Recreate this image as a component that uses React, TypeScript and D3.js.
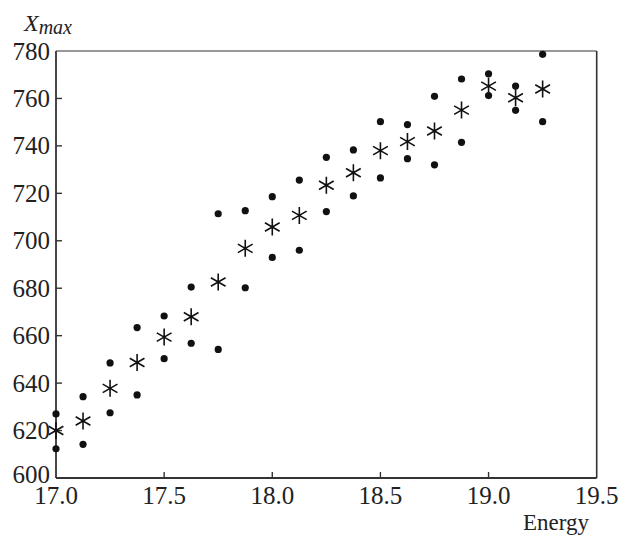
import React from "react";
import * as d3 from "d3";

const energies = [17.0, 17.125, 17.25, 17.375, 17.5, 17.625, 17.75, 17.875, 18.0, 18.125, 18.25, 18.375, 18.5, 18.625, 18.75, 18.875, 19.0, 19.125, 19.25];
const meanXmax = [620, 624, 637.8, 648.7, 659.4, 668, 682.6, 696.8, 705.8, 710.7, 723.4, 728.7, 738, 741.8, 746.3, 755.1, 765.2, 760.3, 764];
const upperXmax = [627, 634.3, 648.5, 663.4, 668.3, 680.5, 711.4, 712.7, 718.6, 725.6, 735.2, 738.3, 750.2, 749, 760.9, 768.2, 770.4, 765.2, 778.6];
const lowerXmax = [612.3, 614.2, 627.5, 635, 650.3, 656.8, 654.2, 680.2, 693, 696, 712.3, 718.9, 726.5, 734.6, 732, 741.5, 761.2, 755, 750.2];

const xTicks = [17.0, 17.5, 18.0, 18.5, 19.0, 19.5];
const yTicks = [600, 620, 640, 660, 680, 700, 720, 740, 760, 780];

const W = 634;
const H = 537;
const left = 56, right = 596.7, top = 51, bottom = 478;

export default function App() {
  const x = d3.scaleLinear().domain([17, 19.5]).range([left, right]);
  const y = d3.scaleLinear().domain([600, 780]).range([bottom, top]);
  const fontStyle = { fontFamily: '"Liberation Serif", "DejaVu Serif", serif' };
  const ink = "#222";
  const starR = 8.5;
  const starPath = d3.range(3).map((i) => {
    const a = (Math.PI / 2) + (i * Math.PI) / 3;
    const dx = starR * Math.cos(a), dy = starR * Math.sin(a);
    return `M${-dx},${-dy}L${dx},${dy}`;
  }).join("");

  return (
    <svg width={W} height={H} style={{ position: "absolute", left: 0, top: 0, background: "#fff", ...fontStyle }}>
      <line x1={left} x2={right} y1={top} y2={top} stroke="#333" strokeWidth={1.2} />
      <line x1={right} x2={right} y1={top} y2={bottom} stroke="#333" strokeWidth={1.6} />
      <line x1={left} x2={left} y1={top} y2={bottom} stroke="#333" strokeWidth={1.8} />
      <line x1={left} x2={right} y1={bottom} y2={bottom} stroke="#333" strokeWidth={2} />
      {yTicks.map((t) => (
        <g key={"y" + t}>
          {t !== 600 && t !== 780 && (
            <line x1={left} x2={left + 6} y1={y(t)} y2={y(t)} stroke="#333" strokeWidth={1.4} />
          )}
          <text x={50} y={y(t) - (t === 600 ? 4 : 0)} dy="0.34em" textAnchor="end" style={fontStyle} fontSize={25} fill={ink}>
            {t}
          </text>
        </g>
      ))}
      {xTicks.map((t) => (
        <g key={"x" + t}>
          {t !== 17 && t !== 19.5 && (
            <line x1={x(t)} x2={x(t)} y1={bottom} y2={bottom - 6} stroke="#333" strokeWidth={1.4} />
          )}
          <text x={x(t)} y={504} textAnchor="middle" style={fontStyle} fontSize={25} fill={ink}>
            {t.toFixed(1)}
          </text>
        </g>
      ))}
      <text x={589} y={530} textAnchor="end" style={fontStyle} fontSize={23} fill={ink}>Energy</text>
      <text x={24} y={31} style={fontStyle} fontSize={24} fontStyle="italic" fill={ink}>
        X<tspan fontSize={20} dy={3}>max</tspan>
      </text>
      {energies.map((e, i) => (
        <g key={"d" + i}>
          <circle cx={x(e)} cy={y(upperXmax[i])} r={3.6} fill="#111" />
          <circle cx={x(e)} cy={y(lowerXmax[i])} r={3.6} fill="#111" />
          <path d={starPath} transform={`translate(${x(e)},${y(meanXmax[i])})`} stroke="#111" strokeWidth={1.6} fill="none" />
        </g>
      ))}
    </svg>
  );
}
